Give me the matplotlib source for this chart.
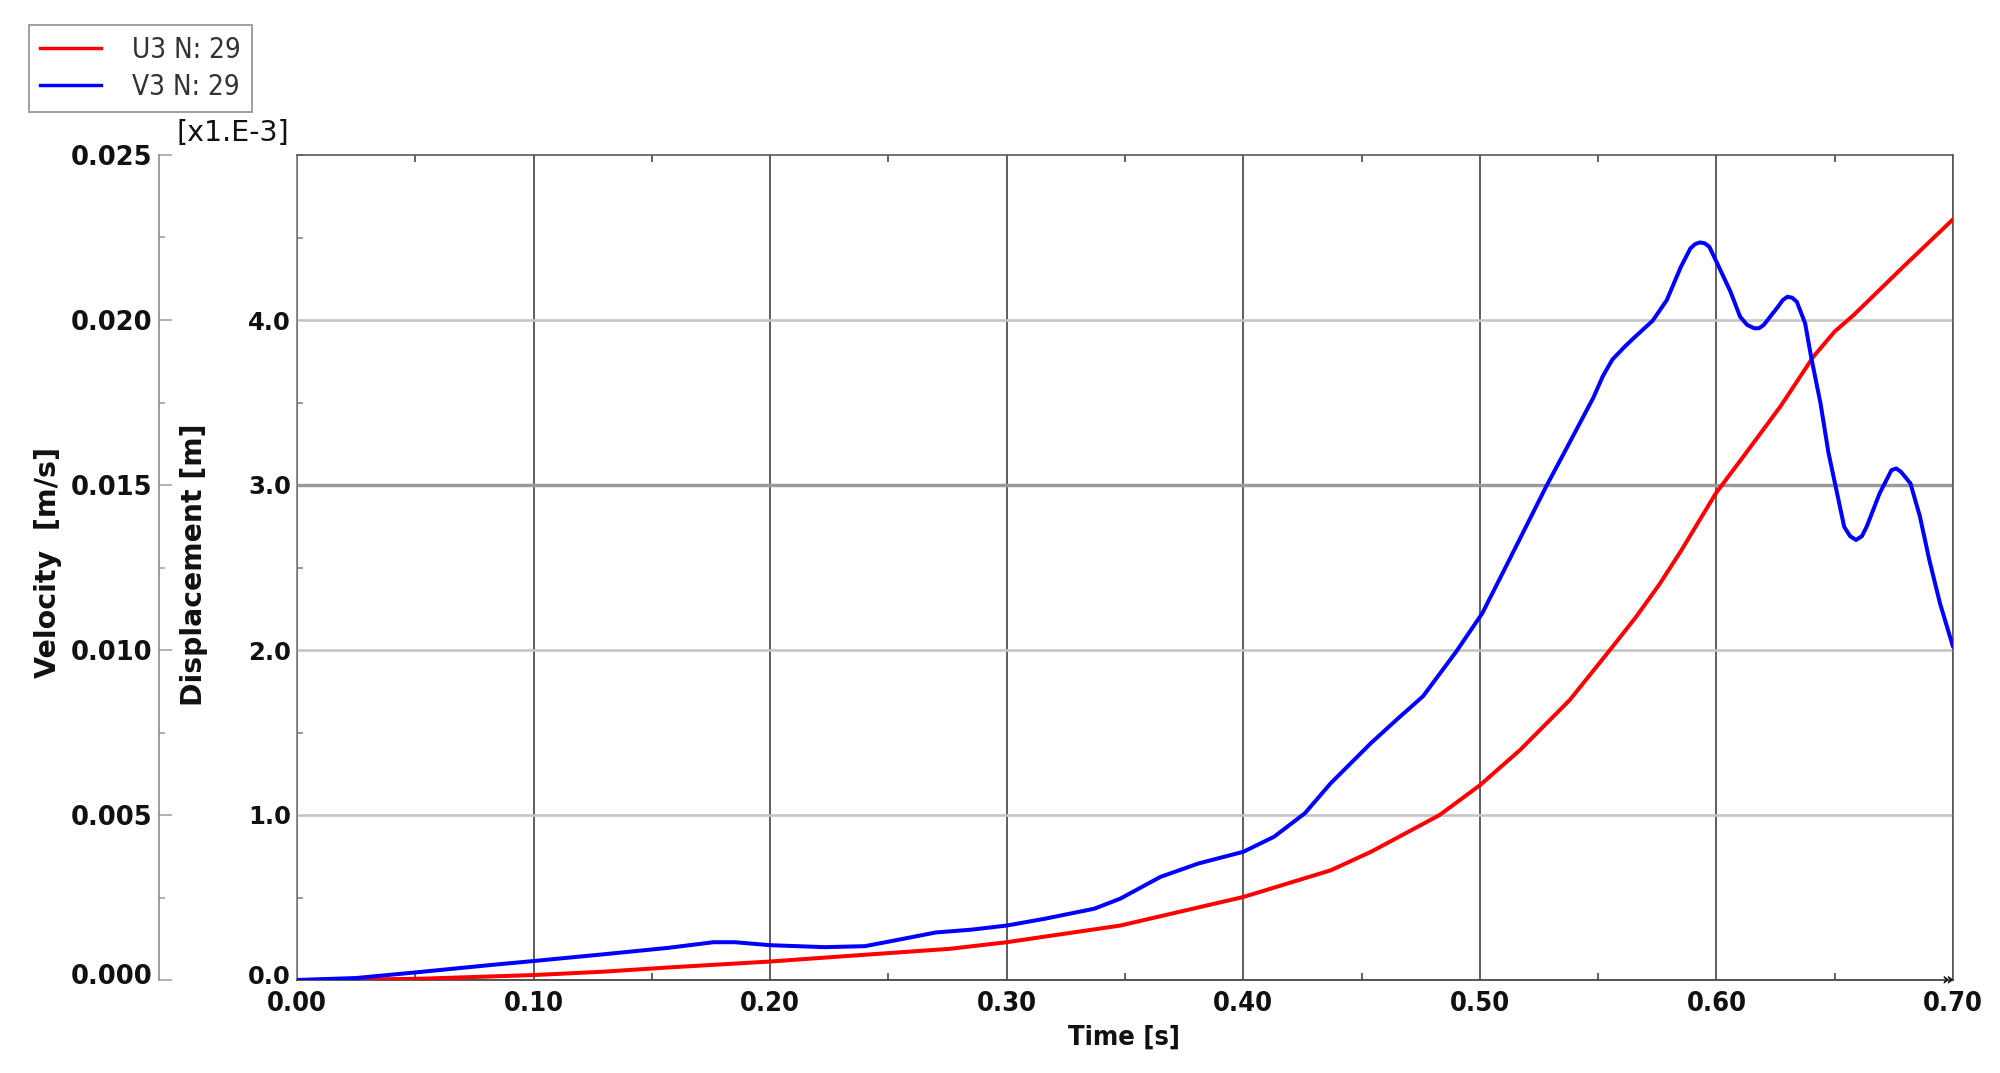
import matplotlib
matplotlib.use("Agg")
import matplotlib.pyplot as plt
from matplotlib import font_manager as fm
from matplotlib.ticker import MultipleLocator, FixedLocator
from matplotlib.lines import Line2D
from matplotlib.transforms import ScaledTranslation

# ---- data ----
t_v3 = [0.000, 0.025, 0.053, 0.082, 0.100, 0.129, 0.157, 0.176, 0.185, 0.200,
        0.223, 0.240, 0.251, 0.270, 0.285, 0.300, 0.316, 0.337, 0.348, 0.365,
        0.381, 0.400, 0.413, 0.426, 0.437, 0.454, 0.465, 0.476, 0.490, 0.501,
        0.511, 0.528, 0.537, 0.548, 0.552, 0.556, 0.561, 0.565, 0.573, 0.579,
        0.585, 0.589, 0.591, 0.593, 0.595, 0.597, 0.601, 0.606, 0.610, 0.613,
        0.616, 0.618, 0.620, 0.626, 0.628, 0.630, 0.632, 0.634, 0.6375, 0.640,
        0.644, 0.6473, 0.651, 0.654, 0.6565, 0.659, 0.6615, 0.6635, 0.669, 0.674,
        0.676, 0.678, 0.682, 0.686, 0.690, 0.6945, 0.700]
v3 = [0.0, 0.00006, 0.00025, 0.000455, 0.000575, 0.000775, 0.000975, 0.001145, 0.001145, 0.001055,
      0.000995, 0.001025, 0.001175, 0.00144, 0.001525, 0.00165, 0.001855, 0.00216, 0.002465, 0.003125,
      0.00353, 0.003885, 0.00434, 0.00505, 0.005965, 0.00718, 0.0079, 0.0086, 0.00995, 0.01111,
      0.012525, 0.01495, 0.01616, 0.01765, 0.0183, 0.0188, 0.019175, 0.01945, 0.019975, 0.0206,
      0.021615, 0.02217, 0.0223, 0.02235, 0.022325, 0.02222, 0.021615, 0.02085, 0.0201, 0.01985,
      0.01975, 0.01975, 0.01985, 0.0204, 0.0206, 0.020705, 0.020675, 0.02055, 0.0199, 0.01889,
      0.017475, 0.016, 0.01475, 0.013735, 0.01345, 0.013335, 0.01345, 0.013735, 0.01475, 0.01545,
      0.0155, 0.0154, 0.01505, 0.01405, 0.012725, 0.011415, 0.0101]   # m/s

t_u3 = [0.000, 0.025, 0.053, 0.100, 0.129, 0.157, 0.200, 0.242, 0.276, 0.300,
        0.348, 0.400, 0.437, 0.454, 0.483, 0.500, 0.517, 0.538, 0.555, 0.566,
        0.576, 0.585, 0.593, 0.600, 0.611, 0.627, 0.641, 0.650, 0.658, 0.679,
        0.700]
u3 = [0.000, 0.002, 0.008, 0.030, 0.050, 0.076, 0.112, 0.155, 0.189, 0.229,
      0.330, 0.503, 0.665, 0.777, 1.000, 1.180, 1.394, 1.697, 2.000, 2.200,
      2.400, 2.600, 2.790, 2.955, 3.165, 3.475, 3.778, 3.930, 4.030, 4.323,
      4.610]   # x1.E-3 m

x_ticks = [0.0, 0.1, 0.2, 0.3, 0.4, 0.5, 0.6, 0.7]
x_labels = ["0.00", "0.10", "0.20", "0.30", "0.40", "0.50", "0.60", "0.70"]
disp_ticks = [0.0, 1.0, 2.0, 3.0, 4.0]
disp_labels = ["0.0", "1.0", "2.0", "3.0", "4.0"]
vel_ticks = [0.000, 0.005, 0.010, 0.015, 0.020, 0.025]
vel_labels = ["0.000", "0.005", "0.010", "0.015", "0.020", "0.025"]
legend_labels = ["U3 N: 29", "V3 N: 29"]

PX = 0.72  # points per pixel at dpi 100

# condensed font detection
_cond = [f for f in fm.fontManager.ttflist
         if f.name == "DejaVu Sans" and "ondensed" in str(f.fname)]
_names = {f.name for f in fm.fontManager.ttflist}
if _cond:
    COND = dict(family="DejaVu Sans", stretch="condensed")
    CSCALE = 1.0
elif "Liberation Sans Narrow" in _names:
    COND = dict(family="Liberation Sans Narrow")
    CSCALE = 1.08
else:
    COND = dict(family="DejaVu Sans")
    CSCALE = 0.92

fig = plt.figure(figsize=(20, 10.73), dpi=100)
fig.patch.set_facecolor("white")
ax = fig.add_axes([297/2000, 1-980/1073, (1953-297)/2000, (980-155)/1073])

ax.set_xlim(0, 0.7)
ax.set_ylim(0, 5)
ax.plot(t_u3, u3, color="#ff0000", lw=4.0*PX, zorder=3,
        solid_joinstyle="round", solid_capstyle="round")

# grid
ax.set_xticks(x_ticks)
ax.set_xticklabels(x_labels)
ax.set_yticks(disp_ticks)
ax.set_yticklabels(disp_labels)
ax.xaxis.grid(True, color="#3c3c3c", lw=1.6*PX)
ax.yaxis.grid(True, color="#c4c4c4", lw=2.6*PX)
for tk in ax.yaxis.get_major_ticks():
    if abs(tk.get_loc() - 3.0) < 1e-9:
        tk.gridline.set_color("#9a9a9a")
        tk.gridline.set_linewidth(3.4*PX)
ax.set_axisbelow(True)

ax.xaxis.set_minor_locator(MultipleLocator(0.05))
ax.yaxis.set_minor_locator(MultipleLocator(0.5))
ax.tick_params(axis="both", which="major", length=0)
ax.tick_params(axis="x", which="major", pad=11*PX, labelcolor="#111")
ax.tick_params(axis="y", which="major", pad=6*PX, labelsize=17.5, labelcolor="#111")
ax.tick_params(axis="x", which="minor", direction="in", length=7*PX, width=1.5*PX,
               color="#333", top=True, bottom=True)
ax.tick_params(axis="y", which="minor", direction="in", length=6*PX, width=1.5*PX,
               color="#777", left=True, right=True)
for lab in ax.get_xticklabels():
    lab.set_fontweight("bold")
    lab.set_fontsize(19.5*CSCALE)
    lab.set_fontfamily(COND["family"])
    if "stretch" in COND:
        lab.set_fontstretch(COND["stretch"])
for lab in ax.get_yticklabels():
    lab.set_fontweight("bold")

for side, col in [("bottom", "#333333"), ("top", "#555555"),
                  ("left", "#777777"), ("right", "#555555")]:
    ax.spines[side].set_color(col)
    ax.spines[side].set_linewidth(1.6*PX)

# velocity axis
ax2 = ax.twinx()
ax2.set_ylim(0, 0.025)
ax2.plot(t_v3, v3, color="#0000ff", lw=4.0*PX, zorder=4,
         solid_joinstyle="round", solid_capstyle="round")
ax2.spines["left"].set_position(("outward", 138*PX))
ax2.spines["left"].set_visible(True)
ax2.spines["left"].set_color("#888888")
ax2.spines["left"].set_linewidth(1.6*PX)
for s in ["right", "top", "bottom"]:
    ax2.spines[s].set_visible(False)
ax2.yaxis.set_ticks_position("left")
ax2.yaxis.set_label_position("left")
ax2.yaxis.set_major_locator(FixedLocator(vel_ticks))
ax2.set_yticklabels(vel_labels)
ax2.yaxis.set_minor_locator(MultipleLocator(0.0025))
ax2.tick_params(axis="y", which="major", direction="in", length=13*PX, width=1.5*PX,
                color="#999", pad=7*PX, labelsize=18.5, labelcolor="#111")
ax2.tick_params(axis="y", which="minor", direction="in", length=6*PX, width=1.5*PX,
                color="#999")
for lab in ax2.get_yticklabels():
    lab.set_fontweight("bold")

# nudge the bottom y labels upward (as in the reference)
up = ScaledTranslation(0, 6/100, fig.dpi_scale_trans)
for axis in (ax.yaxis, ax2.yaxis):
    tks = axis.get_major_ticks()
    if tks:
        tks[0].label1.set_transform(tks[0].label1.get_transform() + up)

# labels
fig.text(1124/2000, 1-1038/1073, "Time [s]", ha="center", va="center",
         fontsize=19.5*CSCALE, fontweight="bold", color="#111", **COND)
fig.text(48/2000, 1-562/1073, "Velocity  [m/s]", ha="center", va="center",
         rotation=90, fontsize=20.5, fontweight="bold", color="#111")
fig.text(194/2000, 1-565/1073, "Displacement [m]", ha="center", va="center",
         rotation=90, fontsize=20.3, fontweight="bold", color="#111")
fig.text(233/2000, 1-133/1073, "[x1.E-3]", ha="center", va="center",
         fontsize=20.5, color="#111")
ax.text(1.0, 0.0, "»", transform=ax.transAxes, ha="right", va="center",
        fontsize=13, fontweight="bold", color="#111", zorder=6)

# legend
handles = [Line2D([], [], color="#ff0000", lw=3.4*PX),
           Line2D([], [], color="#0000ff", lw=3.4*PX)]
legprop = dict(size=20*CSCALE, **COND)
leg = fig.legend(handles, legend_labels, loc="upper left",
                 bbox_to_anchor=(29/2000, 1-25/1073), borderaxespad=0,
                 prop=legprop, frameon=True, fancybox=False, shadow=False,
                 edgecolor="#8a8a8a", borderpad=0.4, labelspacing=0.32,
                 handlelength=2.2, handletextpad=1.1, labelcolor="#333333")
leg.get_frame().set_linewidth(2*PX)

fig.savefig("out.png", dpi=100, facecolor="white")
